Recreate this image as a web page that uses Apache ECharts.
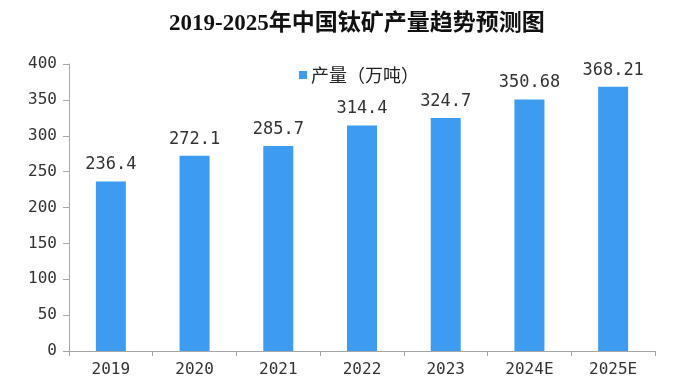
<!DOCTYPE html>
<html>
<head>
<meta charset="utf-8">
<script src="https://cdn.jsdelivr.net/npm/echarts@6/dist/echarts.min.js"></script>
<style>html,body{margin:0;padding:0;background:#fff}#c{width:689px;height:385px}</style>
</head>
<body>
<div id="c"></div>
<script>
var titleText = '2019-2025年中国钛矿产量趋势预测图';
var seriesName = '产量（万吨）';
var categories = ['2019', '2020', '2021', '2022', '2023', '2024E', '2025E'];
var values = [236.4, 272.1, 285.7, 314.4, 324.7, 350.68, 368.21];
var labelsText = ['236.4', '272.1', '285.7', '314.4', '324.7', '350.68', '368.21'];

var chart = echarts.init(document.getElementById('c'), null, {renderer: 'canvas'});
var monoFont = '"DejaVu Sans Mono", "Noto Sans CJK SC", monospace';
chart.setOption({
  animation: false,
  backgroundColor: '#fff',
  title: {
    text: titleText,
    left: 164,
    top: 8,
    textStyle: {fontFamily: '"Liberation Serif", "Noto Sans CJK SC", serif', fontWeight: 'bold', fontSize: 23, color: '#111'}
  },
  legend: {
    data: [seriesName],
    left: 294,
    top: 61,
    itemWidth: 8,
    itemHeight: 8,
    itemGap: 4,
    icon: 'rect',
    textStyle: {fontFamily: '"Noto Sans CJK SC", sans-serif', fontSize: 18, color: '#222', padding: [0, 0, 0, -1]}
  },
  grid: {left: 69, right: 34, top: 64, bottom: 34, containLabel: false},
  xAxis: {
    type: 'category',
    data: categories,
    axisLine: {lineStyle: {color: '#a6a6a6', width: 1}},
    axisTick: {show: true, alignWithLabel: false, length: 5, lineStyle: {color: '#a6a6a6'}},
    axisLabel: {fontFamily: monoFont, fontSize: 16, color: '#333', margin: 11}
  },
  yAxis: {
    type: 'value',
    min: 0,
    max: 400,
    interval: 50,
    axisLine: {show: true, lineStyle: {color: '#a6a6a6', width: 1}},
    axisTick: {show: true, length: 6, lineStyle: {color: '#a6a6a6'}},
    splitLine: {show: false},
    axisLabel: {fontFamily: monoFont, fontSize: 16, color: '#333', margin: 12}
  },
  series: [{
    name: seriesName,
    type: 'bar',
    data: values,
    barWidth: 30,
    itemStyle: {color: '#3d9bf0'},
    label: {
      show: true,
      position: 'top',
      distance: 8,
      fontFamily: monoFont,
      fontSize: 17,
      color: '#333',
      formatter: function (p) { return labelsText[p.dataIndex]; }
    }
  }]
});
</script>
</body>
</html>
